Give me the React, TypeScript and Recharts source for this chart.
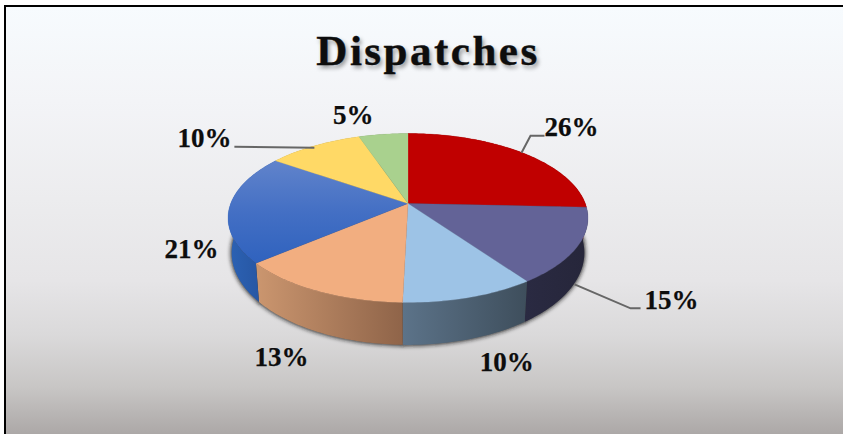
import React from "react";
import { PieChart, Pie, Cell } from "recharts";

const categories = ["A", "B", "C", "D", "E", "F", "G"];
const shares = [25.7, 14.5, 10.2, 13.4, 20.9, 10.1, 5.2];
const topColors = ["#C00000", "#636397", "#9DC3E6", "#F2AE80", "#3E6CC4", "#FFD966", "#A9D18E"];
const wallFrom = ["#7A0000", "#2A2A42", "#5C7389", "#CB966F", "#2C62B4", "#A68C42", "#6E8A5C"];
const wallTo = ["#7A0000", "#26263A", "#3E4E5C", "#8F6449", "#24509A", "#A68C42", "#6E8A5C"];

const data = categories.map((name, i) => ({ name, value: shares[i] }));

// Perspective of the disc: the apex sits above the ellipse centre.
const TILT = 0.4625;
const PERSP = 0.1716;
const WALL_SCALE_X = 0.98;
const WALL_SCALE_Y = 1.09;
const WALL_DROP = 33.5;

const rim = (cx: number, cy: number, r: number, deg: number, lower = false) => {
  const t = (deg * Math.PI) / 180;
  const u = Math.cos(t);
  const v = -Math.sin(t);
  const w = 1 - PERSP * v;
  const dx = (r * u) / w;
  const dy = (r * TILT * v) / w;
  if (!lower) return [cx + dx, cy + dy];
  return [cx + dx * WALL_SCALE_X, cy + WALL_DROP + dy * WALL_SCALE_Y];
};

const arc = (p: any, lower: boolean, reverse = false) => {
  const pts: number[][] = [];
  const n = Math.max(2, Math.ceil(Math.abs(p.endAngle - p.startAngle)));
  for (let k = 0; k <= n; k++) {
    const f = reverse ? 1 - k / n : k / n;
    pts.push(rim(p.cx, p.cy, p.outerRadius, p.startAngle + (p.endAngle - p.startAngle) * f, lower));
  }
  return pts;
};

const toPath = (pts: number[][]) =>
  pts.map((q, i) => `${i ? "L" : "M"}${q[0].toFixed(2)} ${q[1].toFixed(2)}`).join("") + "Z";

const indexOf = (p: any) => categories.indexOf(p.name ?? p.payload?.name);

const ShadowShape = (p: any) => {
  const apex = [p.cx, p.cy + WALL_DROP];
  return (
    <path
      d={toPath([apex, ...arc(p, true)])}
      fill="#1c1c1c"
      fillOpacity={0.9}
      stroke="#1c1c1c"
      strokeWidth={1.5}
      filter="url(#rimShadow)"
    />
  );
};

const WallShape = (p: any) => {
  const i = indexOf(p);
  return (
    <path
      d={toPath([...arc(p, false), ...arc(p, true, true)])}
      fill={`url(#wall${i})`}
      stroke="none"
    />
  );
};

const TopShape = (p: any) => {
  const i = indexOf(p);
  const fill = i === 4 ? "url(#blueTop)" : topColors[i];
  return (
    <path
      d={toPath([[p.cx, p.cy], ...arc(p, false)])}
      fill={fill}
      stroke={fill}
      strokeWidth={0.3}
    />
  );
};

const labelNudges = [
  [49, -26],
  [94, 54],
  [37, 65],
  [-36, 66],
  [-38, 42],
  [-110, -8],
  [-30, -19],
];
const leaders: Record<number, number[][]> = {
  0: [[-1, 0], [8, -17], [22, -17]],
  1: [[-3, 38], [53, 62], [63, 62]],
  5: [[0, 2], [-80, 1]],
};

const renderLabel = (p: any) => {
  const i = p.index;
  const [x, y] = rim(p.cx, p.cy, p.outerRadius, p.midAngle);
  const [nx, ny] = labelNudges[i];
  const line = leaders[i];
  return (
    <g key={i}>
      {line && (
        <polyline
          points={line.map((d) => `${x + d[0]},${y + d[1]}`).join(" ")}
          fill="none"
          stroke="#666666"
          strokeWidth={2}
        />
      )}
      <text
        x={x + nx}
        y={y + ny}
        textAnchor="middle"
        dominantBaseline="central"
        fontFamily="'Liberation Serif', serif"
        fontWeight="bold"
        fontSize={27}
        fill="#0d0d0d"
        stroke="#0d0d0d"
        strokeWidth={0.25}
      >
        {`${Math.round(shares[i])}%`}
      </text>
    </g>
  );
};

const pieBase = {
  data,
  dataKey: "value",
  nameKey: "name",
  cx: 408,
  cy: 203.5,
  innerRadius: 0,
  outerRadius: 177.3,
  startAngle: 90,
  endAngle: -270,
  paddingAngle: 0,
  stroke: "none",
  isAnimationActive: false,
  labelLine: false,
  legendType: "none" as const,
};

export default function App() {
  return (
    <div
      style={{
        position: "fixed",
        left: 0,
        top: 0,
        width: 843,
        height: 434,
        overflow: "hidden",
        background: "#fff",
      }}
    >
      <div
        style={{
          position: "absolute",
          left: 4,
          top: 5,
          width: 839,
          height: 429,
          boxSizing: "border-box",
          borderLeft: "2px solid #000",
          borderTop: "2px solid #000",
          background:
            "linear-gradient(180deg,#F7FBFE 0%,#F3F4F7 22%,#ECECEE 45%,#E6E5E7 64%,#DAD9DA 77%,#C8C6C5 89%,#ACA8A7 100%)",
        }}
      />
      <div
        style={{
          position: "absolute",
          left: 228,
          width: 400,
          top: 26,
          textAlign: "center",
          fontFamily: "'Liberation Serif', serif",
          fontWeight: "bold",
          fontSize: 43,
          lineHeight: "50px",
          letterSpacing: 2.5,
          color: "#0d0d0d",
          WebkitTextStroke: "0.4px #0d0d0d",
          textShadow: "2px 3px 4px rgba(0,0,0,0.4)",
        }}
      >
        Dispatches
      </div>
      <div style={{ position: "absolute", left: 0, top: 0 }}>
        <svg width={0} height={0} style={{ position: "absolute" }}>
          <defs>
            <filter id="rimShadow" x="-30%" y="-30%" width="160%" height="160%">
              <feGaussianBlur stdDeviation="2" />
            </filter>
            <linearGradient id="blueTop" gradientUnits="userSpaceOnUse" x1="0" y1="162" x2="0" y2="264">
              <stop offset="0%" stopColor="#6083CB" />
              <stop offset="50%" stopColor="#436FC4" />
              <stop offset="100%" stopColor="#2F62BE" />
            </linearGradient>
            {categories.map((c, i) => (
              <linearGradient key={c} id={`wall${i}`} x1="0" y1="0" x2="1" y2="0">
                <stop offset="0%" stopColor={wallFrom[i]} />
                <stop offset="100%" stopColor={wallTo[i]} />
              </linearGradient>
            ))}
          </defs>
        </svg>
        <PieChart width={843} height={434} margin={{ top: 0, right: 0, bottom: 0, left: 0 }}>
          <Pie {...pieBase} shape={ShadowShape} />
          <Pie {...pieBase} shape={WallShape} />
          <Pie {...pieBase} shape={TopShape} label={renderLabel} />
        </PieChart>
      </div>
    </div>
  );
}
